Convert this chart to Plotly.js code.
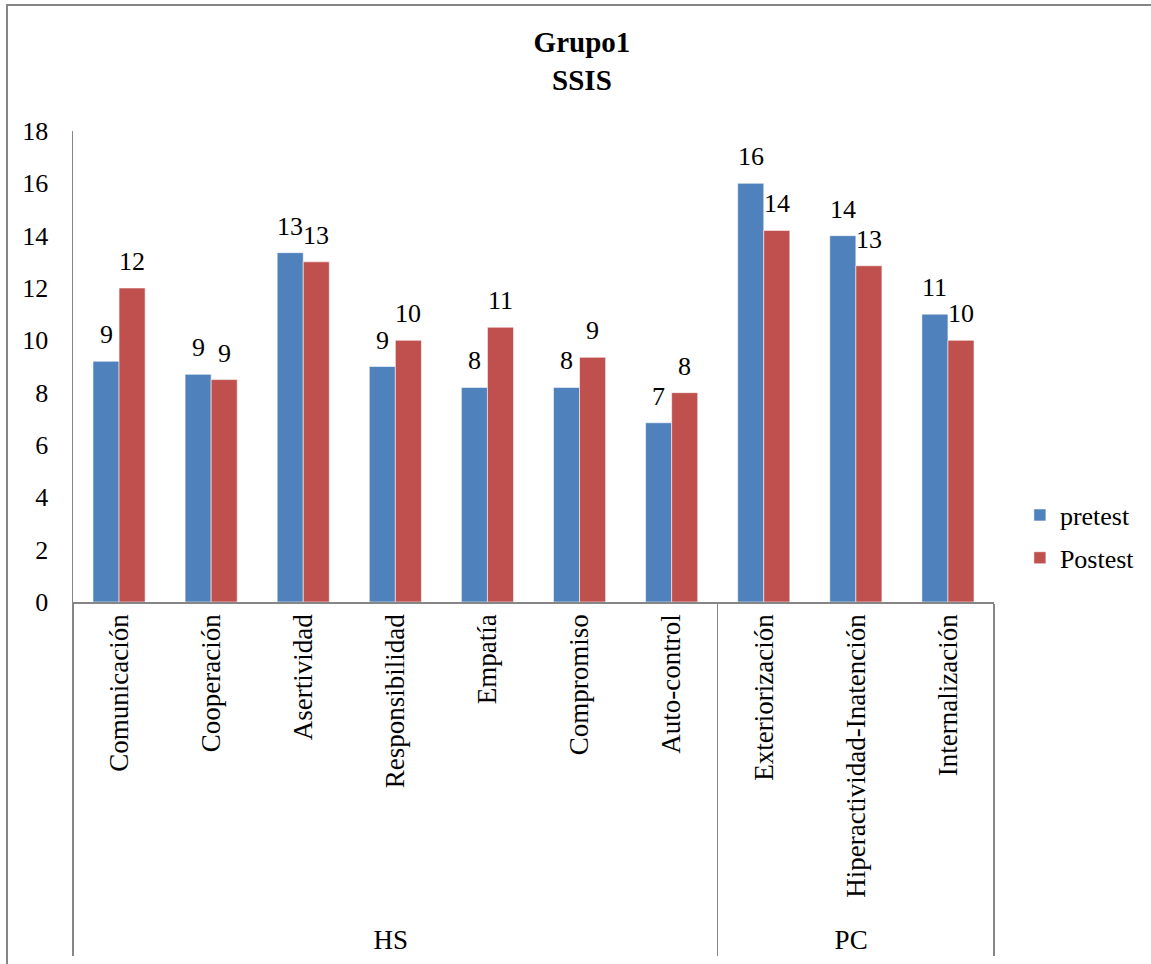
<!DOCTYPE html>
<html>
<head>
<meta charset="utf-8">
<script src="https://cdn.plot.ly/plotly-3.0.1.min.js"></script>
<style>
  html, body { margin: 0; padding: 0; background: #fff; overflow: hidden; }
  #chart { width: 1151px; height: 964px; }
  #frame {
    position: absolute; left: 6px; top: 4px; width: 1200px; height: 1000px;
    border-left: 2px solid #868686; border-top: 2px solid #868686;
    pointer-events: none;
  }
</style>
</head>
<body>
<div id="chart"></div>
<div id="frame"></div>
<script>
// Scale groups (outer level of the category axis)
const groups = ['HS', 'HS', 'HS', 'HS', 'HS', 'HS', 'HS', 'PC', 'PC', 'PC'];
// Subscales (inner level)
const categories = [
  'Comunicación', 'Cooperación', 'Asertividad', 'Responsibilidad', 'Empatía',
  'Compromiso', 'Auto-control', 'Exteriorización', 'Hiperactividad-Inatención', 'Internalización'
];
// Mean scores per subscale
const pretest = [9.2, 8.7, 13.35, 9.0, 8.2, 8.2, 6.85, 16.0, 14.0, 11.0];
const postest = [12.0, 8.5, 13.0, 10.0, 10.5, 9.35, 8.0, 14.2, 12.85, 10.0];
const yTicks = [0, 2, 4, 6, 8, 10, 12, 14, 16, 18];

const FONT = 'Liberation Serif';
const BLUE = '#4F81BD';
const RED = '#C0504D';
const AXIS = '#868686';

const series = [
  { name: 'pretest', values: pretest, color: BLUE, shift: -13 },
  { name: 'Postest', values: postest, color: RED, shift: 13 }
];

const traces = series.map(s => ({
  type: 'bar',
  name: s.name,
  legendgroup: s.name,
  x: [groups, categories],
  y: s.values,
  marker: { color: s.color, line: { color: 'rgba(255,255,255,0.55)', width: 1 } },
  hovertemplate: '%{x}: %{y}<extra>' + s.name + '</extra>'
}));

// Value labels above each bar, rounded to whole numbers
const annotations = [];
series.forEach(s => {
  s.values.forEach((v, i) => {
    annotations.push({
      x: i, y: v, xref: 'x', yref: 'y',
      text: String(Math.round(v)),
      showarrow: false,
      xanchor: 'center', yanchor: 'bottom',
      xshift: s.shift, yshift: 10,
      font: { family: FONT, size: 26, color: '#000' }
    });
  });
});

const layout = {
  width: 1151,
  height: 964,
  paper_bgcolor: '#fff',
  plot_bgcolor: '#fff',
  margin: { l: 73, r: 156, t: 131, b: 362, pad: 0 },
  title: {
    text: '<b>Grupo1<br>SSIS</b>',
    font: { family: FONT, size: 29, color: '#000' },
    x: 0.5056, xref: 'container', xanchor: 'center',
    y: 0.946, yref: 'container', yanchor: 'middle'
  },
  font: { family: FONT, size: 26, color: '#000' },
  bargap: 0.434,
  bargroupgap: 0,
  showlegend: true,
  legend: {
    x: 1.027, xanchor: 'left', y: 0.139, yanchor: 'middle',
    font: { family: FONT, size: 26, color: '#000' },
    tracegroupgap: 6,
    bgcolor: 'rgba(0,0,0,0)'
  },
  xaxis: {
    type: 'multicategory',
    showline: true, linecolor: AXIS, linewidth: 1.5,
    ticks: '',
    tickangle: -90,
    tickfont: { family: FONT, size: 27, color: '#000' },
    showdividers: true, dividercolor: AXIS, dividerwidth: 1.5,
    showgrid: false, zeroline: false
  },
  yaxis: {
    range: [0, 18],
    tickvals: yTicks,
    ticktext: yTicks.map(String),
    showline: true, linecolor: AXIS, linewidth: 1.5,
    ticks: '',
    ticklabelstandoff: 18,
    tickfont: { family: FONT, size: 26, color: '#000' },
    showgrid: false, zeroline: false
  },
  annotations: annotations
};

Plotly.newPlot('chart', traces, layout, { displayModeBar: false, staticPlot: true });
</script>
</body>
</html>
